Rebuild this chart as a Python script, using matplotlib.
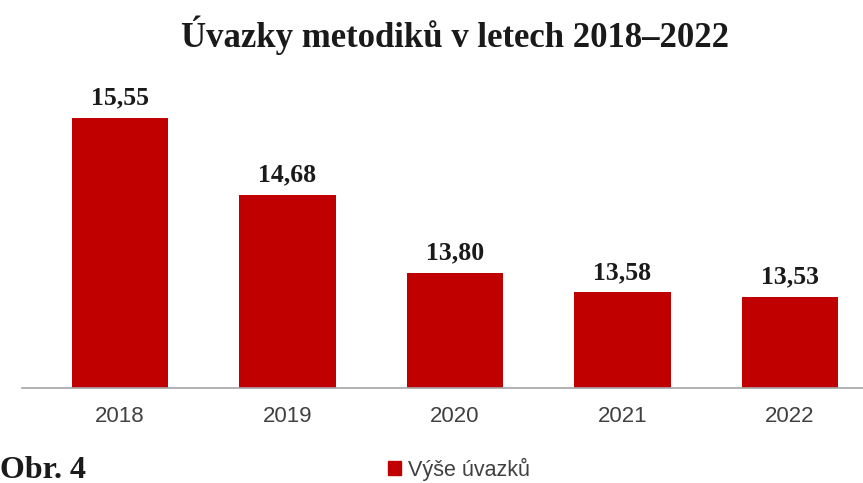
import numpy as np
import matplotlib.pyplot as plt
from matplotlib.patches import Patch

years = ["2018", "2019", "2020", "2021", "2022"]
uvazky = [15.55, 14.68, 13.80, 13.58, 13.53]
labels = ["15,55", "14,68", "13,80", "13,58", "13,53"]

red = "#C00000"

fig = plt.figure(figsize=(8.63, 4.83), dpi=100)
ax = fig.add_axes([22 / 863, 1 - 388 / 483, 1 - 22 / 863, (388 - 78) / 483])

x = np.arange(len(years))
ax.bar(x, uvazky, width=0.575, color=red, bottom=0)
ax.set_ylim(12.5, 16.0)
ax.set_xlim(-0.585, 4.436)

for xi, v, lab in zip(x, uvazky, labels):
    ax.annotate(lab, (xi, v), xytext=(0, 6), textcoords="offset points",
                ha="center", va="bottom", fontsize=18.5, fontweight="bold",
                family="Liberation Serif", color="#1a1a1a")

ax.set_xticks(x)
ax.set_xticklabels(years, fontsize=16, color="#404040", family="Liberation Sans")
ax.tick_params(axis="x", length=0, pad=13)
ax.set_yticks([])
for s in ["top", "right", "left"]:
    ax.spines[s].set_visible(False)
ax.spines["bottom"].set_color("#a6a6a6")
ax.spines["bottom"].set_linewidth(1.2)

fig.text(455 / 863, 1 - 35 / 483, "Úvazky metodiků v letech 2018–2022",
         ha="center", va="center", fontsize=25, fontweight="bold",
         family="Liberation Serif", color="#1a1a1a")
fig.text(0, 1 - 470 / 483, "Obr. 4", ha="left", va="center",
         fontsize=23, fontweight="bold", family="Liberation Serif", color="#1a1a1a")

fig.legend(handles=[Patch(color=red, label="Výše úvazků")],
           loc="center", bbox_to_anchor=(459 / 863, 1 - 469 / 483), frameon=False,
           prop={"family": "Liberation Sans", "size": 15.5}, handlelength=0.6,
           handleheight=0.6, handletextpad=0.3, labelcolor="#404040")

fig.savefig("out.png", dpi=100)
